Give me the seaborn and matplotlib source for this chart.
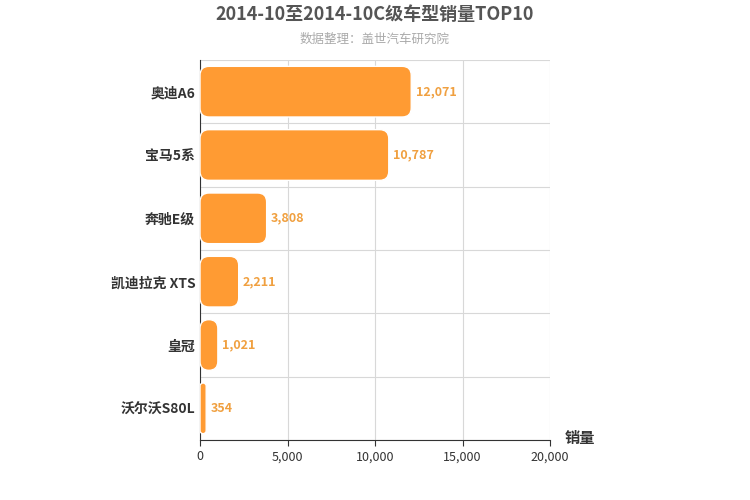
import matplotlib
matplotlib.use("Agg")
import matplotlib.pyplot as plt
import seaborn as sns
import pandas as pd
from matplotlib.patches import FancyBboxPatch

categories = ["奥迪A6", "宝马5系", "奔驰E级", "凯迪拉克 XTS", "皇冠", "沃尔沃S80L"]
values = [12071, 10787, 3808, 2211, 1021, 354]
xticks = [0, 5000, 10000, 15000, 20000]

plt.rcParams["font.family"] = ["Noto Sans CJK SC", "DejaVu Sans"]
df = pd.DataFrame({"car": categories, "sales": values})
fig = plt.figure(figsize=(7.5, 5), dpi=100)
ax = fig.add_axes([200/750, 60/500 and 0.12, 350/750, 380/500])
color = "#ff9b33"
sns.barplot(data=df, x="sales", y="car", color=color, width=0.8, ax=ax, saturation=1, zorder=3)
ax.set_xlim(0, 20000)
ax.set_ylim(5.5, -0.5)
xpx = 20000/350; ypx = 6/380
for p in list(ax.patches):
    x0, y0, w, h = p.get_x(), p.get_y(), p.get_width(), p.get_height()
    p.remove()
    r = 9*xpx
    fb = FancyBboxPatch((x0, y0), w, h, boxstyle=f"round,pad=0,rounding_size={min(r, w/2)}",
                        mutation_aspect=ypx/xpx, facecolor=color, edgecolor="white", lw=1, zorder=3)
    ax.add_patch(fb)
for i, v in enumerate(values):
    ax.text(v + 250, i, f"{v:,}", va="center", ha="left", color="#f0a040", fontsize=9, fontweight="bold")
ax.set_xticks(xticks)
ax.set_xticklabels([f"{t:,}" for t in xticks], fontsize=9, color="#333333")
ax.set_yticks(range(len(categories)))
ax.set_yticklabels(categories, fontsize=10, fontweight="bold", color="#333333")
ax.set_yticks([i + 0.5 for i in range(-1, 6)], minor=True)
ax.grid(axis="x", color="#d8d8d8", zorder=0)
ax.grid(axis="y", which="minor", color="#d8d8d8", zorder=0)
ax.tick_params(axis="y", which="both", length=0)
ax.tick_params(axis="x", length=4, color="#333333")
for s in ["top", "right"]:
    ax.spines[s].set_visible(False)
ax.spines["left"].set_color("#333333")
ax.spines["bottom"].set_color("#333333")
ax.set_xlabel(""); ax.set_ylabel("")
fig.text(565/750, 1-438/500, "销量", fontsize=11, fontweight="bold", color="#333333", ha="left", va="center")
fig.text(375/750, 1-14/500, "2014-10至2014-10C级车型销量TOP10", fontsize=13, fontweight="bold", color="#555555", ha="center", va="center")
fig.text(375/750, 1-39/500, "数据整理：盖世汽车研究院", fontsize=9, color="#aaaaaa", ha="center", va="center")
fig.savefig("out.png", dpi=100)
